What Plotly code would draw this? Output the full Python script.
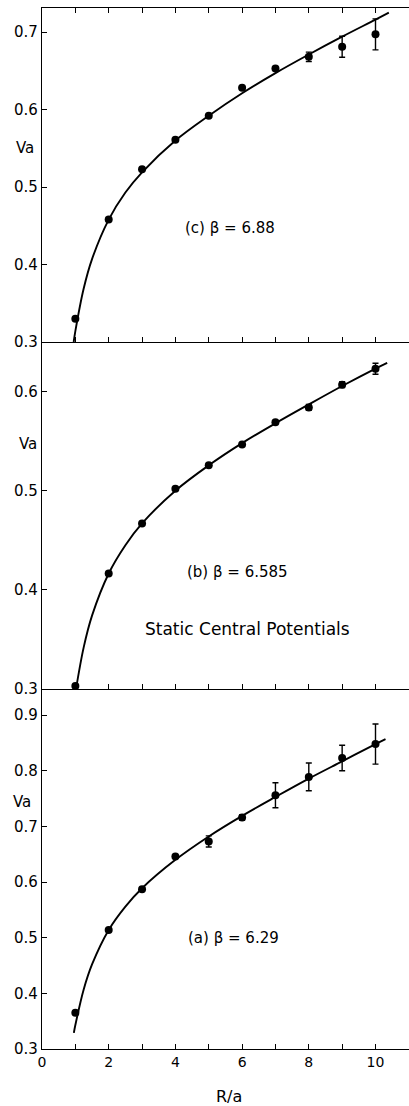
import plotly.graph_objects as go

# ---------------- data ----------------
R_points = [1, 2, 3, 4, 5, 6, 7, 8, 9, 10]

# (c) beta = 6.88
Vc = [0.330, 0.458, 0.523, 0.561, 0.592, 0.628, 0.653, 0.668, 0.681, 0.697]
Vc_err = [0.0, 0.0, 0.0, 0.0, 0.0, 0.0, 0.0, 0.006, 0.0135, 0.020]
Rc_fit = [0.95, 1.0, 1.25, 1.5, 2, 2.5, 3, 4, 5, 6, 7, 8, 9, 10, 10.4]
Vc_fit = [0.300, 0.314, 0.369, 0.407, 0.458, 0.493, 0.519, 0.560, 0.592,
          0.621, 0.647, 0.671, 0.694, 0.716, 0.725]

# (b) beta = 6.585
Vb = [0.303, 0.4165, 0.467, 0.502, 0.5256, 0.5465, 0.569, 0.584, 0.607, 0.623]
Vb_err = [0.0, 0.0, 0.0, 0.0, 0.0, 0.0, 0.0, 0.003, 0.003, 0.0055]
Rb_fit = [1.02, 1.25, 1.5, 2, 2.5, 3, 4, 5, 6, 7, 8, 9, 10, 10.35]
Vb_fit = [0.300, 0.342, 0.374, 0.4165, 0.445, 0.467, 0.500, 0.5256,
          0.548, 0.568, 0.587, 0.6056, 0.6232, 0.629]

# (a) beta = 6.29
Va = [0.365, 0.514, 0.587, 0.646, 0.673, 0.716, 0.756, 0.789, 0.823, 0.848]
Va_err = [0.0, 0.0, 0.0, 0.0, 0.010, 0.005, 0.0224, 0.025, 0.023, 0.036]
Ra_fit = [0.955, 1.0, 1.25, 1.5, 2, 2.5, 3, 4, 5, 6, 7, 8, 9, 10, 10.3]
Va_fit = [0.329, 0.343, 0.407, 0.452, 0.514, 0.556, 0.589, 0.640, 0.682,
          0.719, 0.753, 0.786, 0.817, 0.848, 0.857]

x_tickvals = [0, 1, 2, 3, 4, 5, 6, 7, 8, 9, 10]
x_ticktext = ["0", "", "2", "", "4", "", "6", "", "8", "", "10"]
yc_ticks = [0.3, 0.4, 0.5, 0.6, 0.7]
yb_ticks = [0.3, 0.4, 0.5, 0.6]
ya_ticks = [0.3, 0.4, 0.5, 0.6, 0.7, 0.8, 0.9]

# ---------------- figure ----------------
W, H = 409, 1106
ML, MR, MT, MB = 42, 0, 8, 57
PW, PH = W - ML - MR, H - MT - MB
FONT = "DejaVu Sans"


def px(p):
    return (p - ML) / PW


def py(q):
    return (H - MB - q) / PH


d_bot = py(689)
d_mid = py(342)

fig = go.Figure()

panels = [
    ("x3", "y3", Vc, Vc_err, Rc_fit, Vc_fit),
    ("x2", "y2", Vb, Vb_err, Rb_fit, Vb_fit),
    ("x", "y", Va, Va_err, Ra_fit, Va_fit),
]
for xa, ya, v, err, rf, vf in panels:
    fig.add_trace(go.Scatter(
        x=rf, y=vf, mode="lines", xaxis=xa, yaxis=ya,
        line=dict(color="black", width=1.9, shape="spline"),
        hoverinfo="skip", showlegend=False, cliponaxis=False))
    fig.add_trace(go.Scatter(
        x=R_points, y=v, mode="markers", xaxis=xa, yaxis=ya,
        marker=dict(color="black", size=8),
        error_y=dict(type="data", array=err, visible=True,
                     color="black", thickness=1.4, width=3),
        showlegend=False, cliponaxis=False))

xcommon = dict(range=[0, PW / 33.35], showgrid=False, zeroline=False,
               showline=True, linecolor="black", linewidth=1.4,
               ticks="inside", ticklen=5, tickwidth=1.2,
               tickcolor="black", tickvals=x_tickvals, ticktext=x_ticktext,
               tickfont=dict(family=FONT, size=14, color="black"))
ycommon = dict(showgrid=False, zeroline=False, showline=True,
               linecolor="black", linewidth=1.4, ticks="inside", ticklen=5,
               tickwidth=1.2, tickcolor="black",
               tickfont=dict(family=FONT, size=15, color="black"))

fig.update_layout(
    width=W, height=H,
    margin=dict(l=ML, r=MR, t=MT, b=MB),
    paper_bgcolor="white", plot_bgcolor="white",
    xaxis=dict(**xcommon, anchor="y", showticklabels=True, mirror=False),
    xaxis2=dict(**xcommon, anchor="y2", matches="x", showticklabels=False,
                mirror=False),
    xaxis3=dict(**xcommon, anchor="y3", matches="x", showticklabels=False,
                mirror="ticks"),
    yaxis=dict(**ycommon, domain=[0, d_bot], range=[0.3, 0.947],
               tickvals=ya_ticks, ticktext=[f"{t:.1f}" for t in ya_ticks]),
    yaxis2=dict(**ycommon, domain=[d_bot, d_mid], range=[0.3, 0.650],
                tickvals=yb_ticks, ticktext=[f"{t:.1f}" for t in yb_ticks]),
    yaxis3=dict(**ycommon, domain=[d_mid, 1], range=[0.3, 0.731],
                tickvals=yc_ticks, ticktext=[f"{t:.1f}" for t in yc_ticks]),
)

texts = [
    ("Va", 25, 148, 15),
    ("Va", 28, 444, 15),
    ("Va", 22, 802, 15),
    ("(c) β = 6.88", 230, 228, 15),
    ("(b) β = 6.585", 237, 572, 15),
    ("Static Central Potentials", 247, 629, 17),
    ("(a) β = 6.29", 233, 938, 15),
    ("R/a", 229, 1096, 16),
]
for t, xp, yp, fs in texts:
    fig.add_annotation(text=t, x=px(xp), y=py(yp), xref="paper", yref="paper",
                       showarrow=False, xanchor="center", yanchor="middle",
                       font=dict(family=FONT, size=fs, color="black"))

fig.write_html(
    "out.html",
    config={"displayModeBar": False},
    post_script="document.body.style.margin='0';"
                "document.body.style.overflow='hidden';",
)
